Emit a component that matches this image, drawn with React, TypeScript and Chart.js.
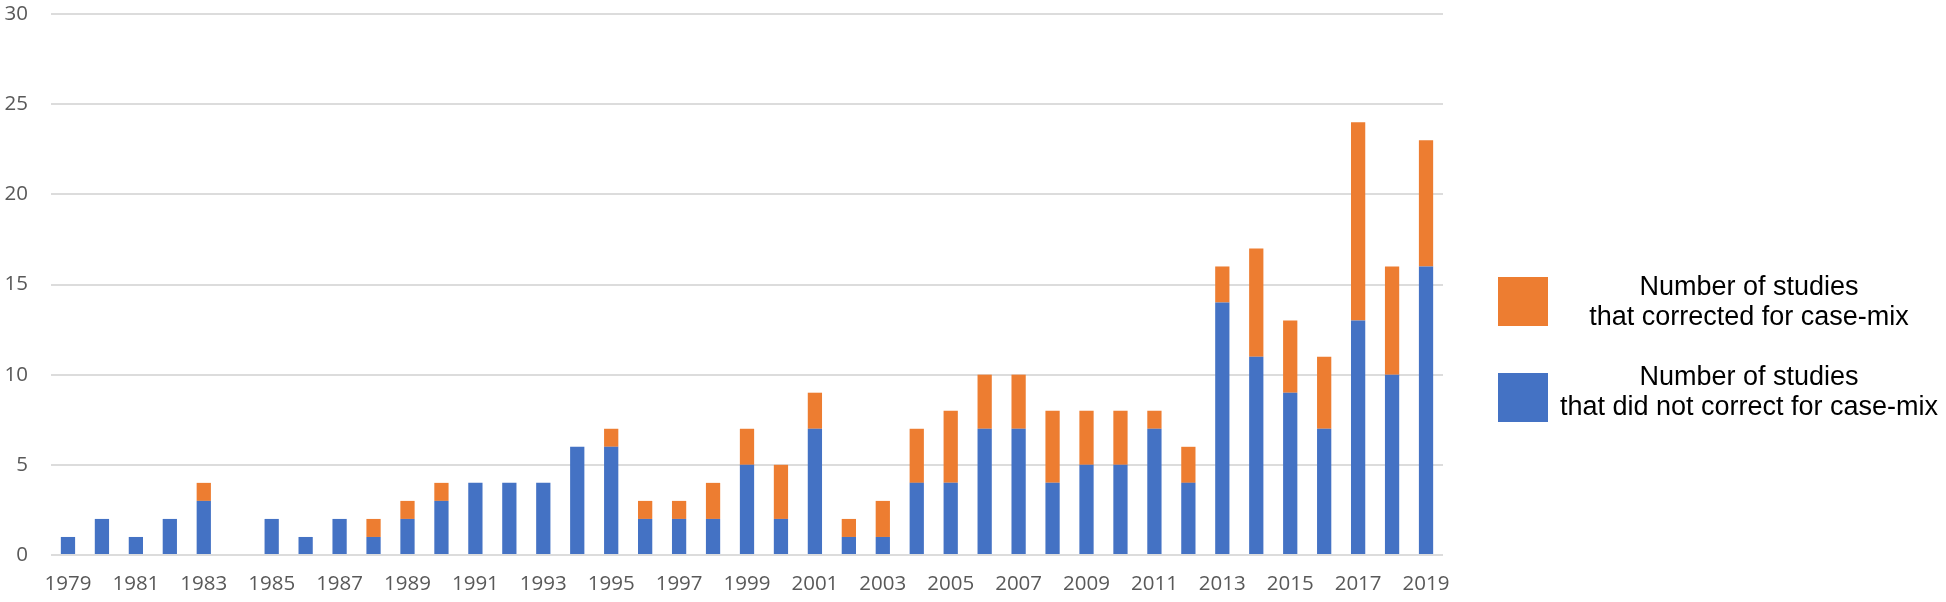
import React, { useEffect, useRef } from "react";
import { Chart, registerables } from "chart.js";

Chart.register(...registerables);

const years: string[] = [
  "1979", "1980", "1981", "1982", "1983", "1984", "1985", "1986", "1987", "1988",
  "1989", "1990", "1991", "1992", "1993", "1994", "1995", "1996", "1997", "1998",
  "1999", "2000", "2001", "2002", "2003", "2004", "2005", "2006", "2007", "2008",
  "2009", "2010", "2011", "2012", "2013", "2014", "2015", "2016", "2017", "2018", "2019",
];

const notCorrected: number[] = [
  1, 2, 1, 2, 3, 0, 2, 1, 2, 1,
  2, 3, 4, 4, 4, 6, 6, 2, 2, 2,
  5, 2, 7, 1, 1, 4, 4, 7, 7, 4,
  5, 5, 7, 4, 14, 11, 9, 7, 13, 10, 16,
];

const corrected: number[] = [
  0, 0, 0, 0, 1, 0, 0, 0, 0, 1,
  1, 1, 0, 0, 0, 0, 1, 1, 1, 2,
  2, 3, 2, 1, 2, 3, 4, 3, 3, 4,
  3, 3, 1, 2, 2, 6, 4, 4, 11, 6, 7,
];

const legendItems = [
  { lines: ["Number of studies", "that corrected for case-mix"], color: "#ED7D31", boxTop: 277, textTop: 295 },
  { lines: ["Number of studies", "that did not correct for case-mix"], color: "#4472C4", boxTop: 373, textTop: 385 },
];

const yTicks = { min: 0, max: 30, step: 5 };

const legendPlugin = {
  id: "customLegend",
  afterDraw(chart: any) {
    const ctx = chart.ctx;
    const area = chart.chartArea;
    const boxX = area.right + 55;
    const textCenter = area.right + 306;
    ctx.save();
    legendItems.forEach((item) => {
      ctx.fillStyle = item.color;
      ctx.fillRect(boxX, item.boxTop, 50, 49);
      ctx.fillStyle = "#000000";
      ctx.font = '27px "Liberation Sans", Arial, sans-serif';
      ctx.textAlign = "center";
      ctx.textBaseline = "alphabetic";
      item.lines.forEach((line, j) => {
        ctx.fillText(line, textCenter, item.textTop + j * 30);
      });
    });
    ctx.restore();
  },
};

export default function App() {
  const canvasRef = useRef<HTMLCanvasElement | null>(null);

  useEffect(() => {
    document.body.style.margin = "0";
    const canvas = canvasRef.current;
    if (!canvas) return;
    const tickFont = { family: '"Open Sans", sans-serif', size: 20.5 };
    const chart = new Chart(canvas, {
      type: "bar",
      data: {
        labels: years,
        datasets: [
          {
            label: "Number of studies that did not correct for case-mix",
            data: notCorrected,
            backgroundColor: "#4472C4",
            borderWidth: 0,
            barPercentage: 0.42,
            categoryPercentage: 1,
          },
          {
            label: "Number of studies that corrected for case-mix",
            data: corrected,
            backgroundColor: "#ED7D31",
            borderWidth: 0,
            barPercentage: 0.42,
            categoryPercentage: 1,
          },
        ],
      },
      options: {
        responsive: false,
        animation: false,
        maintainAspectRatio: false,
        layout: { padding: { top: 14, right: 503, left: 0, bottom: 0 } },
        plugins: {
          legend: { display: false },
          tooltip: { enabled: false },
        },
        scales: {
          x: {
            stacked: true,
            grid: { display: false, drawTicks: false },
            border: { display: false },
            ticks: {
              autoSkip: false,
              maxRotation: 0,
              minRotation: 0,
              padding: 17,
              color: "#595959",
              font: tickFont,
              callback: (_v: any, i: number) => (i % 2 === 0 ? years[i] : ""),
            },
            afterFit: (scale: any) => {
              scale.height = 47;
            },
          },
          y: {
            stacked: true,
            min: yTicks.min,
            max: yTicks.max,
            grid: { color: "#dcdcdc", lineWidth: 2, drawTicks: false },
            border: { display: false },
            ticks: {
              stepSize: yTicks.step,
              padding: 23,
              color: "#595959",
              font: tickFont,
            },
            afterFit: (scale: any) => {
              scale.width = 51;
              scale.paddingTop = 0;
              scale.paddingBottom = 0;
            },
          },
        },
      },
      plugins: [legendPlugin],
    });
    return () => chart.destroy();
  }, []);

  return (
    <div style={{ width: 1946, height: 602 }}>
      <canvas ref={canvasRef} width={1946} height={602} />
    </div>
  );
}
